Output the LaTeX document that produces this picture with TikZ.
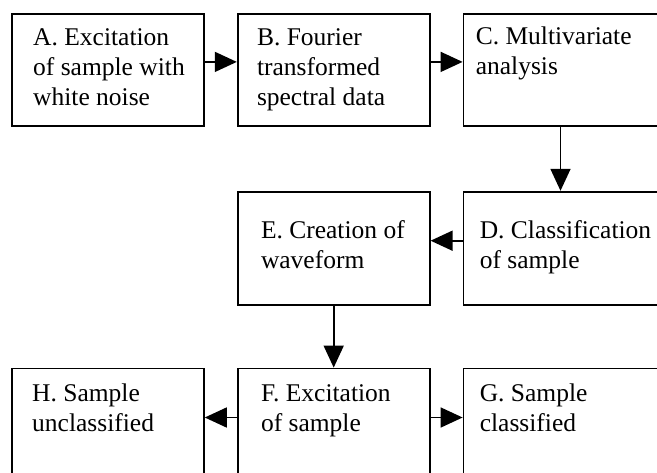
\documentclass[tikz,border=0pt]{standalone}
\usepackage{fontspec}
\setmainfont{Liberation Serif}
\usetikzlibrary{arrows.meta, positioning, calc}
\tikzset{
    box/.style={rectangle, draw, line width=1.8pt, minimum width=192pt, minimum height=112pt, inner sep=0pt},
    widebox/.style={box, minimum width=200pt},
    txt/.style={anchor=base west, align=left, inner sep=0pt, font=\fontsize{25.5}{30}\selectfont},
    arrow/.style={line width=1.6pt, -{Triangle[length=22pt, width=20pt]}}
}
\begin{document}
\begin{tikzpicture}[x=1pt, y=1pt, node distance=32pt]
    \clip (0,0) rectangle (657,-472);
    % boxes
    \node[box, anchor=north west] (a) at (11,-13) {};
    \node[box, right=of a] (b) {};
    \node[widebox, right=of b] (c) {};
    \node[widebox, minimum height=113pt, below=64pt of c] (d) {};
    \node[box, minimum height=113pt, left=of d] (e) {};
    \node[box, below=62pt of e] (f) {};
    \node[widebox, right=of f] (g) {};
    \node[box, left=of f] (h) {};

    % texts (base = last line)
    \node[txt] (atext) at ($(a.north west)+(22,-92)$) {A. Excitation\\of sample with\\white noise};
    \node[txt] (btext) at ($(b.north west)+(20,-92)$) {B. Fourier\\transformed\\spectral data};
    \node[txt] (ctext) at ($(c.north west)+(13,-61)$) {C. Multivariate\\analysis};
    \node[txt] (dtext) at ($(d.north west)+(17,-78)$) {D. Classification\\of sample};
    \node[txt] (etext) at ($(e.north west)+(24,-78)$) {E. Creation of\\waveform};
    \node[txt] (ftext) at ($(f.north west)+(24,-64)$) {F. Excitation\\of sample};
    \node[txt] (gtext) at ($(g.north west)+(17,-64)$) {G. Sample\\classified};
    \node[txt] (htext) at ($(h.north west)+(21,-64)$) {H. Sample\\unclassified};

    % connectors
    \draw[arrow] ([yshift=8pt]a.east) -- ([yshift=8pt]b.west);
    \draw[arrow] ([yshift=8pt]b.east) -- ([yshift=8pt]c.west);
    \draw[arrow] ([xshift=-3pt]c.south) -- ([xshift=-3pt]d.north);
    \draw[arrow] ([yshift=7.5pt]d.west) -- ([yshift=7.5pt]e.east);
    \draw[arrow] (e.south) -- (f.north);
    \draw[arrow] ([yshift=7pt]f.east) -- ([yshift=7pt]g.west);
    \draw[arrow] ([yshift=7pt]f.west) -- ([yshift=7pt]h.east);
\end{tikzpicture}
\end{document}
